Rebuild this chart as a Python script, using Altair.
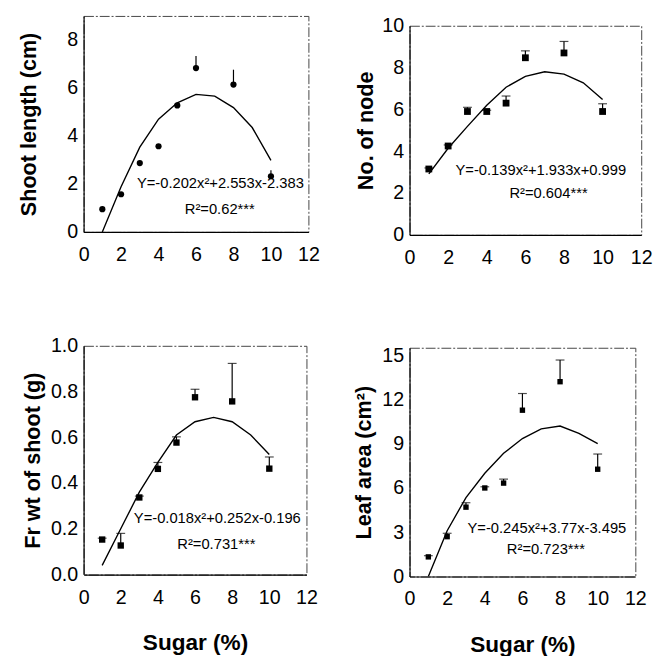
import altair as alt
import pandas as pd

FONT = "Liberation Sans"

sugar = [1, 2, 3, 4, 5, 6, 8, 10]

shoot_len = [0.95, 1.57, 2.87, 3.57, 5.27, 6.83, 6.14, 2.32]
shoot_len_err = [0.0, 0.04, 0.0, 0.0, 0.0, 0.5, 0.62, 0.25]

nodes = [3.15, 4.25, 5.9, 5.9, 6.3, 8.47, 8.7, 5.9]
nodes_err = [0.05, 0.05, 0.2, 0.06, 0.34, 0.33, 0.55, 0.37]

frwt = [0.153, 0.127, 0.337, 0.462, 0.577, 0.775, 0.757, 0.463]
frwt_err = [0.006, 0.053, 0.006, 0.028, 0.025, 0.035, 0.166, 0.051]

leaf = [1.33, 2.7, 4.7, 6.0, 6.33, 11.27, 13.2, 7.27]
leaf_err = [0.08, 0.23, 0.3, 0.08, 0.27, 1.13, 1.47, 1.03]

fit_x = [1, 2, 3, 4, 5, 6, 7, 8, 9, 10]
shoot_fit = [0.0, 1.88, 3.53, 4.7, 5.38, 5.73, 5.66, 5.18, 4.35, 2.98]
node_fit = [2.92, 4.14, 5.19, 6.2, 7.06, 7.58, 7.8, 7.69, 7.27, 6.47]
frwt_fit = [0.04, 0.2, 0.36, 0.49, 0.61, 0.668, 0.687, 0.668, 0.61, 0.525]
leaf_fit = [0.0, 3.1, 5.35, 7.0, 8.35, 9.35, 10.0, 10.2, 9.7, 9.0]

x_ticks = [0, 2, 4, 6, 8, 10, 12]


def panel(vals, errs, fit, ymax, yticks, ytitle, eq, r2, eqpos, r2pos,
          w, h, shape, msize, caps, xtitle, yfmt, ytpad):
    df = pd.DataFrame({"x": sugar, "y": vals,
                       "top": [v + e for v, e in zip(vals, errs)]})
    fdf = pd.DataFrame({"x": fit_x, "y": fit})
    tdf = pd.DataFrame({"x": [eqpos[0], r2pos[0]], "y": [eqpos[1], r2pos[1]],
                        "t": [eq, r2]})
    xs = alt.Scale(domain=[0, 12], nice=False, zero=False)
    ys = alt.Scale(domain=[0, ymax], nice=False)
    if xtitle:
        xax = alt.Axis(values=x_ticks, title=xtitle, titlePadding=25, labelFlush=False)
    else:
        xax = alt.Axis(values=x_ticks, title=None, labelFlush=False)
    yax = alt.Axis(values=yticks, title=ytitle, format=yfmt, titlePadding=ytpad,
                   labelPadding=6, labelFlush=False)
    X = alt.X("x:Q", scale=xs, axis=xax)
    Y = alt.Y("y:Q", scale=ys, axis=yax)

    curve = alt.Chart(fdf).mark_line(color="black", strokeWidth=1.4, clip=True).encode(x=X, y=Y)
    bars = alt.Chart(df).mark_rule(color="black", strokeWidth=1.2).encode(
        x=X, y=Y, y2="top:Q")
    layers = [curve, bars]
    if caps:
        layers.append(alt.Chart(df).mark_tick(color="black", orient="horizontal",
                                              size=9, thickness=1.2).encode(
            x=X, y=alt.Y("top:Q", scale=ys)))
    layers.append(alt.Chart(df).mark_point(shape=shape, filled=True, color="black",
                                           opacity=1, size=msize).encode(x=X, y=Y))
    layers.append(alt.Chart(tdf).mark_text(font=FONT, fontSize=15, color="black",
                                           align="center", baseline="middle").encode(
        x=X, y=Y, text="t:N"))
    return alt.layer(*layers).properties(width=w, height=h)


def spacer(h):
    return alt.Chart(pd.DataFrame({"a": [0]})).mark_point(opacity=0).encode(
        x=alt.value(0), y=alt.value(0)
    ).properties(width=10, height=h, view=alt.ViewBackground(strokeOpacity=0))


p1 = panel(shoot_len, shoot_len_err, shoot_fit, 9, [0, 2, 4, 6, 8],
           "Shoot length (cm)", "Y=-0.202x²+2.553x-2.383", "R²=0.62***",
           (7.3, 2.05), (7.27, 0.95), 229, 220, "circle", 40, False, None, "d", 27)
p2 = panel(nodes, nodes_err, node_fit, 10, [0, 2, 4, 6, 8, 10],
           "No. of node", "Y=-0.139x²+1.933x+0.999", "R²=0.604***",
           (6.8, 3.1), (7.2, 2.0), 236, 213, "square", 48, True, None, "d", 4)
p3 = panel(frwt, frwt_err, frwt_fit, 1.0, [0, 0.2, 0.4, 0.6, 0.8, 1.0],
           "Fr wt of shoot (g)", "Y=-0.018x²+0.252x-0.196", "R²=0.731***",
           (7.2, 0.245), (7.15, 0.133), 227, 233, "square", 42, True, "Sugar (%)", ".1f", 6)
p4 = panel(leaf, leaf_err, leaf_fit, 15.5, [0, 3, 6, 9, 12, 15],
           "Leaf area (cm²)", "Y=-0.245x²+3.77x-3.495", "R²=0.723***",
           (7.3, 3.3), (7.25, 1.85), 230, 233, "square", 30, True, "Sugar (%)", "d", 7)

chart = alt.concat(spacer(9), spacer(1), p1, p2, spacer(59), spacer(64), p3, p4,
                   columns=2,
                   spacing={"row": 2, "column": 32},
                   align={"row": "none", "column": "each"}).properties(
    padding={"left": 9, "top": -13, "right": 0, "bottom": 0}
).configure_view(
    stroke="#444", strokeWidth=1, strokeDash=[10, 2, 2, 2]
).configure_axis(
    labelFont=FONT, labelFontSize=20, labelColor="black",
    titleFont=FONT, titleFontSize=22, titleFontWeight="bold", titleColor="black",
    grid=False, ticks=False, domainColor="black", domainWidth=1.2
).configure_axisX(titleFontSize=23, labelPadding=13)

chart.save("out.html", embed_options={"renderer": "svg", "actions": False})
